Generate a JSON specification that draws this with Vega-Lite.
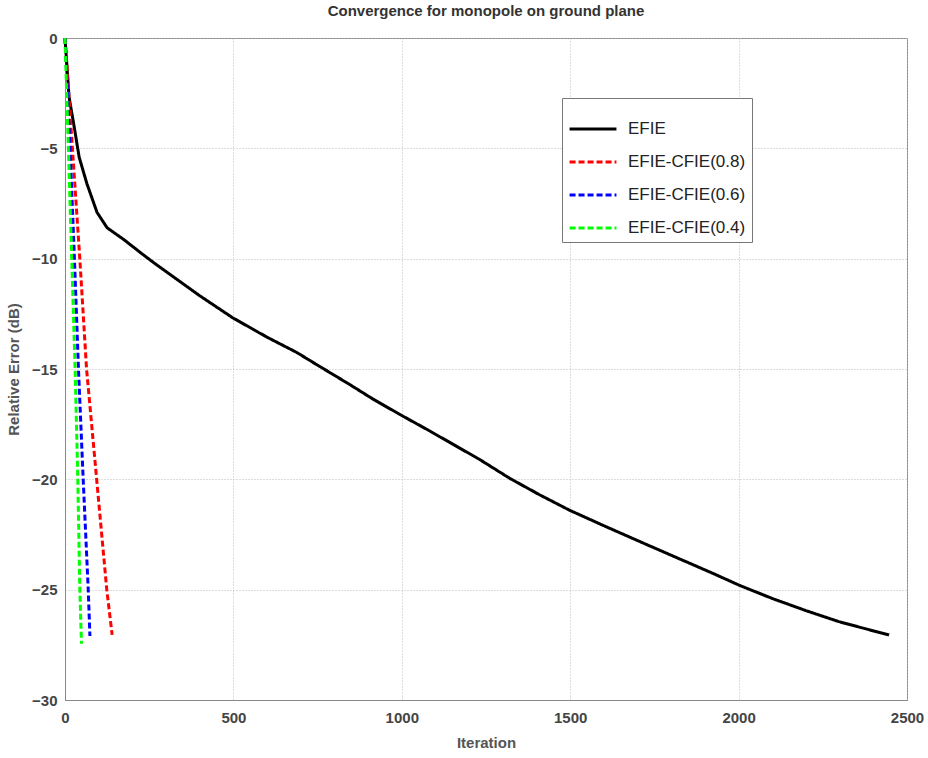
{
  "$schema": "https://vega.github.io/schema/vega-lite/v6.json",
  "autosize": "none",
  "width": 842,
  "height": 662,
  "padding": {"left": 65, "top": 38, "right": 21, "bottom": 58},
  "background": "white",
  "title": {"text": "Convergence for monopole on ground plane", "fontSize": 15, "font": "Liberation Sans", "fontWeight": "bold", "color": "#333", "offset": 12, "anchor": "middle"},
  "config": {
    "view": {"stroke": "#888", "strokeWidth": 1},
    "axis": {
      "labelFont": "Liberation Sans", "labelFontSize": 15, "labelFontWeight": "bold", "labelColor": "#444",
      "titleFont": "Liberation Sans", "titleFontSize": 15, "titleColor": "#555", "titleFontWeight": "bold",
      "grid": true, "gridColor": "#bbb", "gridDash": [1, 2], "gridWidth": 1,
      "domainColor": "#888", "ticks": false
    }
  },
  "data": {"values": [
    {"series": "EFIE", "iter": 0, "err": 0},
    {"series": "EFIE", "iter": 12, "err": -2.67},
    {"series": "EFIE", "iter": 27, "err": -4.0},
    {"series": "EFIE", "iter": 42, "err": -5.4},
    {"series": "EFIE", "iter": 65, "err": -6.6},
    {"series": "EFIE", "iter": 95, "err": -7.9},
    {"series": "EFIE", "iter": 125, "err": -8.6},
    {"series": "EFIE", "iter": 176, "err": -9.15},
    {"series": "EFIE", "iter": 226, "err": -9.75},
    {"series": "EFIE", "iter": 265, "err": -10.2},
    {"series": "EFIE", "iter": 400, "err": -11.68},
    {"series": "EFIE", "iter": 498, "err": -12.68},
    {"series": "EFIE", "iter": 599, "err": -13.55},
    {"series": "EFIE", "iter": 688, "err": -14.25},
    {"series": "EFIE", "iter": 747, "err": -14.8},
    {"series": "EFIE", "iter": 845, "err": -15.7},
    {"series": "EFIE", "iter": 913, "err": -16.35},
    {"series": "EFIE", "iter": 993, "err": -17.05},
    {"series": "EFIE", "iter": 1082, "err": -17.8},
    {"series": "EFIE", "iter": 1231, "err": -19.1},
    {"series": "EFIE", "iter": 1320, "err": -19.95},
    {"series": "EFIE", "iter": 1409, "err": -20.7},
    {"series": "EFIE", "iter": 1498, "err": -21.4},
    {"series": "EFIE", "iter": 1607, "err": -22.15},
    {"series": "EFIE", "iter": 1726, "err": -22.95},
    {"series": "EFIE", "iter": 1824, "err": -23.6},
    {"series": "EFIE", "iter": 1922, "err": -24.25},
    {"series": "EFIE", "iter": 2002, "err": -24.8},
    {"series": "EFIE", "iter": 2100, "err": -25.4},
    {"series": "EFIE", "iter": 2200, "err": -25.95},
    {"series": "EFIE", "iter": 2298, "err": -26.45},
    {"series": "EFIE", "iter": 2396, "err": -26.85},
    {"series": "EFIE", "iter": 2447, "err": -27.05},
    {"series": "EFIE-CFIE(0.8)", "iter": 0, "err": 0},
    {"series": "EFIE-CFIE(0.8)", "iter": 22, "err": -5},
    {"series": "EFIE-CFIE(0.8)", "iter": 44, "err": -10},
    {"series": "EFIE-CFIE(0.8)", "iter": 64, "err": -15},
    {"series": "EFIE-CFIE(0.8)", "iter": 94, "err": -20},
    {"series": "EFIE-CFIE(0.8)", "iter": 124, "err": -25},
    {"series": "EFIE-CFIE(0.8)", "iter": 140, "err": -27.05},
    {"series": "EFIE-CFIE(0.6)", "iter": 0, "err": 0},
    {"series": "EFIE-CFIE(0.6)", "iter": 15, "err": -5},
    {"series": "EFIE-CFIE(0.6)", "iter": 28, "err": -10},
    {"series": "EFIE-CFIE(0.6)", "iter": 40, "err": -15},
    {"series": "EFIE-CFIE(0.6)", "iter": 54, "err": -20},
    {"series": "EFIE-CFIE(0.6)", "iter": 69, "err": -25},
    {"series": "EFIE-CFIE(0.6)", "iter": 74, "err": -27.1},
    {"series": "EFIE-CFIE(0.4)", "iter": 0, "err": 0},
    {"series": "EFIE-CFIE(0.4)", "iter": 10, "err": -5},
    {"series": "EFIE-CFIE(0.4)", "iter": 20, "err": -10},
    {"series": "EFIE-CFIE(0.4)", "iter": 30, "err": -15},
    {"series": "EFIE-CFIE(0.4)", "iter": 38, "err": -20},
    {"series": "EFIE-CFIE(0.4)", "iter": 44, "err": -25},
    {"series": "EFIE-CFIE(0.4)", "iter": 49, "err": -27.45}
  ]},
  "mark": {"type": "line", "strokeWidth": 3},
  "encoding": {
    "x": {"field": "iter", "type": "quantitative", "title": "Iteration",
      "scale": {"domain": [0, 2500], "nice": false},
      "axis": {"values": [0, 500, 1000, 1500, 2000, 2500], "format": "d", "labelPadding": 10, "titlePadding": 10, "labelFlush": false}},
    "y": {"field": "err", "type": "quantitative", "title": "Relative Error (dB)",
      "scale": {"domain": [-30, 0], "nice": false, "zero": false},
      "axis": {"values": [-30, -25, -20, -15, -10, -5, 0], "format": "d", "labelPadding": 8, "titlePadding": 10, "labelFlush": false}},
    "color": {"field": "series", "type": "nominal", "title": null,
      "scale": {"domain": ["EFIE", "EFIE-CFIE(0.8)", "EFIE-CFIE(0.6)", "EFIE-CFIE(0.4)"], "range": ["#000000", "#ff0000", "#0000ff", "#00ff00"]},
      "legend": {"orient": "none", "legendX": 497, "legendY": 60, "symbolType": "stroke", "symbolSize": 2200, "symbolStrokeWidth": 3,
        "labelFont": "Liberation Sans", "labelFontSize": 17, "labelColor": "#222", "rowPadding": -30, "padding": 6,
        "strokeColor": "#777", "fillColor": "white", "labelOffset": 10}},
    "strokeDash": {"field": "series", "type": "nominal",
      "scale": {"domain": ["EFIE", "EFIE-CFIE(0.8)", "EFIE-CFIE(0.6)", "EFIE-CFIE(0.4)"], "range": [[1, 0], [6, 3], [6, 3], [6, 3]]},
      "legend": null}
  }
}
